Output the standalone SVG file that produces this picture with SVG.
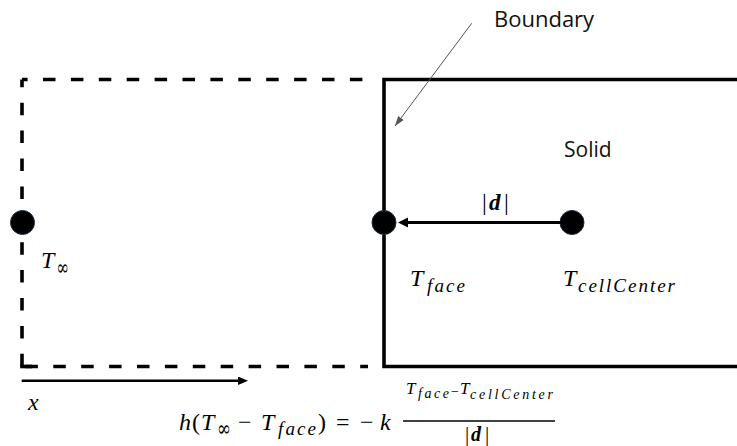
<svg xmlns="http://www.w3.org/2000/svg" width="737" height="446" viewBox="0 0 737 446">
<style>
.dash{fill:none;stroke:#000;stroke-width:3.6;stroke-dasharray:12.5 15.4}
.solid{fill:none;stroke:#000;stroke-width:3.6}
.dot{fill:#000;stroke:#1c2a45;stroke-width:1}
.lbl{font-family:"Open Sans","Liberation Sans",sans-serif;fill:#111}
.m{font-family:"Liberation Serif","DejaVu Serif",serif;font-style:italic;fill:#000}
.u{font-family:"Liberation Serif","DejaVu Serif",serif;font-style:normal;fill:#000}
.inf{font-family:"DejaVu Serif","DejaVu Sans",serif;font-style:normal;fill:#000}
.b{font-family:"Liberation Serif","DejaVu Serif",serif;font-style:italic;font-weight:bold;fill:#000}
</style>
<defs>
<marker id="ahBlack" markerUnits="userSpaceOnUse" markerWidth="12" markerHeight="12" refX="4" refY="5" orient="auto">
<path d="M0,0 L10,5 L0,10 z" fill="#000"/>
</marker>
<marker id="ahSmall" markerUnits="userSpaceOnUse" markerWidth="12" markerHeight="12" refX="4" refY="4.2" orient="auto">
<path d="M0,0 L10,4.2 L0,8.4 z" fill="#000"/>
</marker>
<marker id="ahGray" markerUnits="userSpaceOnUse" markerWidth="12" markerHeight="12" refX="10" refY="3.5" orient="auto">
<path d="M0,0 L10,3.5 L0,7 z" fill="#555"/>
</marker>
</defs>

<g id="ambient-region">
<line class="dash" x1="22" y1="79.5" x2="368" y2="79.5" stroke-dashoffset="6.9"/>
<line class="dash" x1="22" y1="79.5" x2="22" y2="366.5" stroke-dashoffset="4.7"/>
<line class="dash" x1="22" y1="366.5" x2="368" y2="366.5" stroke-dashoffset="24.5"/>
<line class="solid" x1="20.2" y1="366.5" x2="32" y2="366.5"/>
</g>

<g id="solid-region">
<path class="solid" d="M740,79.5 H384 V366.5 H740"/>
<text class="lbl" x="564" y="157" font-size="21">Solid</text>
</g>

<g id="boundary-label">
<text class="lbl" x="494" y="27" font-size="22">Boundary</text>
</g>

<g id="node-tinf">
<circle class="dot" cx="22.5" cy="222.5" r="12"/>
<text class="m" x="41" y="268" font-size="24">T</text>
<text class="inf" x="56.5" y="275" font-size="22" textLength="12.5" lengthAdjust="spacingAndGlyphs">∞</text>
</g>

<g id="node-tface">
<circle class="dot" cx="384" cy="222.5" r="12"/>
<text class="m" x="410" y="286" font-size="24">T</text>
<text class="m" x="427" y="292" font-size="19" textLength="38" lengthAdjust="spacing">face</text>
</g>

<g id="node-tcell">
<circle class="dot" cx="572" cy="222.5" r="12"/>
<text class="m" x="563" y="286" font-size="24">T</text>
<text class="m" x="578" y="292" font-size="19" textLength="97" lengthAdjust="spacing">cellCenter</text>
</g>

<g id="connectors">
<line x1="562" y1="222.5" x2="404" y2="222.5" stroke="#000" stroke-width="3" marker-end="url(#ahBlack)"/>
<line x1="471.7" y1="23.3" x2="395" y2="126" stroke="#555" stroke-width="1" marker-end="url(#ahGray)"/>
<line x1="21.7" y1="380.7" x2="242" y2="380.7" stroke="#000" stroke-width="2.5" marker-end="url(#ahSmall)"/>
</g>

<g id="d-label">
<text class="u" x="482" y="210" font-size="24">|</text>
<text class="b" x="489" y="210" font-size="23">d</text>
<text class="u" x="504" y="210" font-size="24">|</text>
</g>

<g id="x-label">
<text class="m" x="28" y="410" font-size="24">x</text>
</g>

<g id="equation">
<text class="m" x="179" y="429.5" font-size="24">h</text>
<text class="u" x="192" y="429.5" font-size="24">(</text>
<text class="m" x="201" y="429.5" font-size="24">T</text>
<text class="inf" x="217" y="436" font-size="22" textLength="14" lengthAdjust="spacingAndGlyphs">∞</text>
<text class="u" x="238" y="429.5" font-size="24">−</text>
<text class="m" x="261" y="429.5" font-size="24">T</text>
<text class="m" x="278" y="435" font-size="19" textLength="38" lengthAdjust="spacing">face</text>
<text class="u" x="318" y="429.5" font-size="24">)</text>
<text class="u" x="336" y="429.5" font-size="24">=</text>
<text class="u" x="360" y="429.5" font-size="24">−</text>
<text class="m" x="380" y="429.5" font-size="24">k</text>
<text class="m" x="406" y="394" font-size="17">T</text>
<text class="m" x="418" y="398" font-size="14" textLength="31" lengthAdjust="spacing">face</text>
<text class="u" x="451" y="396" font-size="14">−</text>
<text class="m" x="460" y="394" font-size="17">T</text>
<text class="m" x="470" y="399" font-size="14" textLength="83" lengthAdjust="spacing">cellCenter</text>
<line x1="403" y1="421" x2="555" y2="421" stroke="#000" stroke-width="1.4"/>
<text class="u" x="465" y="441" font-size="21">|</text>
<text class="b" x="471" y="441" font-size="20">d</text>
<text class="u" x="485" y="441" font-size="21">|</text>
</g>
</svg>
